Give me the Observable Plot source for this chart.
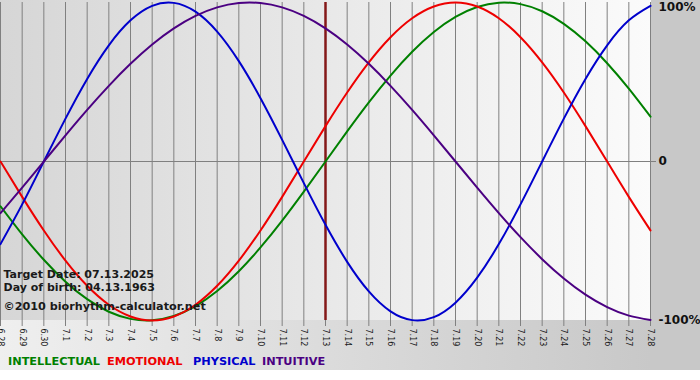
<!DOCTYPE html>
<html><head><meta charset="utf-8">
<script src="https://cdn.jsdelivr.net/npm/d3@7"></script>
<script src="https://cdn.jsdelivr.net/npm/@observablehq/plot@0.6"></script>
<style>
body{margin:0;background:#fff;}
#wrap{position:relative;width:700px;height:380px;overflow:hidden;font-family:"DejaVu Sans",sans-serif;}
.bg{position:absolute;}
#plotbg{left:0;top:0;width:651px;height:320px;background:linear-gradient(to right,#d6d6d6,#fbfbfb);}
#rightbg{left:651px;top:0;width:49px;height:370px;background:#c8c8c8;}
#bottombg{left:0;top:320px;width:651px;height:50px;background:linear-gradient(to right,#efefef,#c8c8c8);}
#chart{position:absolute;left:0;top:0;}
#legend span{position:absolute;top:356px;font-weight:bold;font-size:11.3px;line-height:1;white-space:nowrap;}
</style>
</head><body>
<div id="wrap">
  <div class="bg" id="plotbg"></div>
  <div class="bg" id="rightbg"></div>
  <div class="bg" id="bottombg"></div>
  <div id="chart"></div>
  <div id="legend"></div>
</div>
<script>
const dayLabels = ["6.28","6.29","6.30","7.1","7.2","7.3","7.4","7.5","7.6","7.7","7.8","7.9","7.10","7.11","7.12","7.13","7.14","7.15","7.16","7.17","7.18","7.19","7.20","7.21","7.22","7.23","7.24","7.25","7.26","7.27","7.28"];
const intellectual = [-0.2817,-0.4582,-0.6182,-0.7557,-0.8660,-0.9450,-0.9898,-0.9989,-0.9718,-0.9096,-0.8146,-0.6901,-0.5406,-0.3717,-0.1893,0,0.1893,0.3717,0.5406,0.6901,0.8146,0.9096,0.9718,0.9989,0.9898,0.9450,0.8660,0.7557,0.6182,0.4582,0.2817];
const emotional = [0,-0.2225,-0.4339,-0.6235,-0.7818,-0.9010,-0.9749,-1,-0.9749,-0.9010,-0.7818,-0.6235,-0.4339,-0.2225,0,0.2225,0.4339,0.6235,0.7818,0.9010,0.9749,1,0.9749,0.9010,0.7818,0.6235,0.4339,0.2225,0,-0.2225,-0.4339];
const physical = [-0.5196,-0.2698,0,0.2698,0.5196,0.7308,0.8879,0.9791,0.9977,0.9423,0.8170,0.6311,0.3984,0.1362,-0.1362,-0.3984,-0.6311,-0.8170,-0.9423,-0.9977,-0.9791,-0.8879,-0.7308,-0.5196,-0.2698,0,0.2698,0.5196,0.7308,0.8879,0.9791];
const intuitive = [-0.3247,-0.1646,0,0.1646,0.3247,0.4759,0.6142,0.7357,0.8372,0.9158,0.9694,0.9966,0.9966,0.9694,0.9158,0.8372,0.7357,0.6142,0.4759,0.3247,0.1646,0,-0.1646,-0.3247,-0.4759,-0.6142,-0.7357,-0.8372,-0.9158,-0.9694,-0.9966];
const seriesNames = ["INTELLECTUAL","EMOTIONAL","PHYSICAL","INTUITIVE"];
const seriesColors = ["#008000","#ee0000","#0000cc","#4b0082"];
const yTicks = [1, 0, -1];
const yTickLabels = ["100%", "0", "-100%"];
const targetLabel = "7.13";
const infoLines = ["Target Date: 07.13.2025", "Day of birth: 04.13.1963"];
const copyright = "©2010 biorhythm-calculator.net";
const legendLeft = [8, 107, 193, 262];

const seriesValues = [intellectual, emotional, physical, intuitive];
const days = d3.range(dayLabels.length);
const rows = seriesNames.flatMap((name, k) => seriesValues[k].map((v, i) => ({day: i, value: v, name})));
const targetIndex = dayLabels.indexOf(targetLabel);
const yLab = new Map(yTicks.map((t, i) => [t, yTickLabels[i]]));

const chart = Plot.plot({
  width: 700, height: 345,
  marginLeft: 0, marginRight: 50, marginTop: 2, marginBottom: 25,
  style: {background: "transparent", fontFamily: "DejaVu Sans", color: "#111", overflow: "visible"},
  x: {domain: [0, dayLabels.length - 1], axis: null},
  y: {domain: [-1, 1], axis: null},
  color: {domain: seriesNames, range: seriesColors},
  marks: [
    Plot.ruleX(days, {stroke: "#808080", strokeWidth: 1}),
    Plot.ruleY([0], {stroke: "#808080", strokeWidth: 1}),
    Plot.axisX(days, {anchor: "bottom", tickFormat: i => dayLabels[i], tickRotate: 90, tickSize: 6, tickPadding: 2, stroke: "#808080", fill: "#1a1a1a", fontSize: 8, label: null}),
    Plot.axisY([0], {anchor: "right", tickSize: 5, tickPadding: 3, tickFormat: d => yLab.get(d), stroke: "#808080", fill: "#111", fontSize: 12, fontWeight: "bold", label: null}),
    Plot.axisY([-1], {anchor: "right", tickSize: 0, tickPadding: 8, tickFormat: d => yLab.get(d), fill: "#111", fontSize: 12, fontWeight: "bold", label: null}),
    Plot.axisY([1], {anchor: "right", tickSize: 0, tickPadding: 8, dy: 5, tickFormat: d => yLab.get(d), fill: "#111", fontSize: 12, fontWeight: "bold", label: null}),
    Plot.ruleX([targetIndex], {stroke: "#841818", strokeWidth: 2.5}),
    Plot.line(rows, {x: "day", y: "value", z: "name", stroke: "name", strokeWidth: 2, curve: "natural"}),
    Plot.text([infoLines[0]], {text: d => d, frameAnchor: "bottom-left", dx: 3, dy: -46.5, textAnchor: "start", lineAnchor: "middle", fontSize: 11, fontWeight: "bold", fill: "#1a1a1a"}),
    Plot.text([infoLines[1]], {text: d => d, frameAnchor: "bottom-left", dx: 3, dy: -33.5, textAnchor: "start", lineAnchor: "middle", fontSize: 11, fontWeight: "bold", fill: "#1a1a1a"}),
    Plot.text([copyright], {text: d => d, frameAnchor: "bottom-left", dx: 3, dy: -14, textAnchor: "start", lineAnchor: "middle", fontSize: 11.2, fontWeight: "bold", fill: "#1a1a1a"})
  ]
});
document.getElementById("chart").appendChild(chart);

const legend = document.getElementById("legend");
seriesNames.forEach((n, i) => {
  const s = document.createElement("span");
  s.textContent = n;
  s.style.color = seriesColors[i];
  s.style.left = legendLeft[i] + "px";
  legend.appendChild(s);
});
</script>
</body></html>
